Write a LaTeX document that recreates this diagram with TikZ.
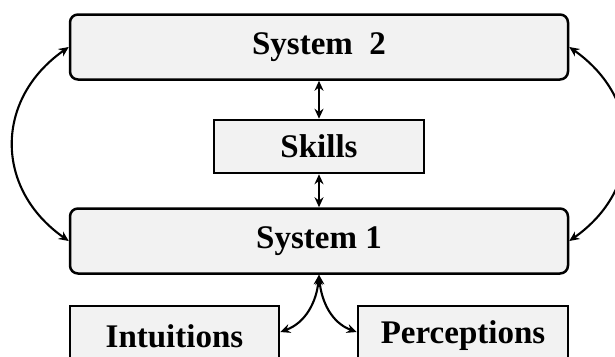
\documentclass[tikz,border=0pt]{standalone}
\usepackage{fontspec}
\setmainfont{Liberation Serif}
\usetikzlibrary{arrows.meta}
\definecolor{boxgray}{RGB}{242,242,242}
\begin{document}
\begin{tikzpicture}[x=1pt, y=1pt,
        system/.style={rectangle, rounded corners=8pt, draw=black, fill=boxgray, line width=2.5pt, minimum width=498pt, minimum height=65pt, inner sep=0pt, font=\fontsize{33}{36}\selectfont\bfseries},
        module/.style={rectangle, draw=black, fill=boxgray, line width=2.5pt, inner sep=0pt, font=\fontsize{33}{36}\selectfont\bfseries},
        link/.style={{Stealth[length=10pt,width=9pt]}-{Stealth[length=10pt,width=9pt]}, line width=2.1pt},]

        \useasboundingbox (0,0) rectangle (615,-356);

        % Systems
        \node[system] (sys2) at (319,-47)  {System\ \ 2};
        \node[system] (sys1) at (319,-241) {System 1};

        % Modules
        \node[module, minimum width=210pt, minimum height=53pt] (skills)      at (319,-146.5) {Skills};
        \node[module, minimum width=209pt, minimum height=60pt] (intuitions)  at (174.5,-336) {Intuitions};
        \node[module, minimum width=210pt, minimum height=60pt] (perceptions) at (463,-336)   {Perceptions};

        % Links
        \draw[link] (sys2) -- (skills);
        \draw[link] (skills) -- (sys1);
        \draw[link] (sys2.west) to[out=215, in=145, looseness=1.2] (sys1.west);
        \draw[link] (sys2.east) to[out=-35, in=35, looseness=1.2] (sys1.east);
        \draw[link] (sys1.south) to[out=-95, in=20] ([yshift=4pt]intuitions.east);
        \draw[link] (sys1.south) to[out=-85, in=160] ([yshift=4pt]perceptions.west);
    \end{tikzpicture}
\end{document}
